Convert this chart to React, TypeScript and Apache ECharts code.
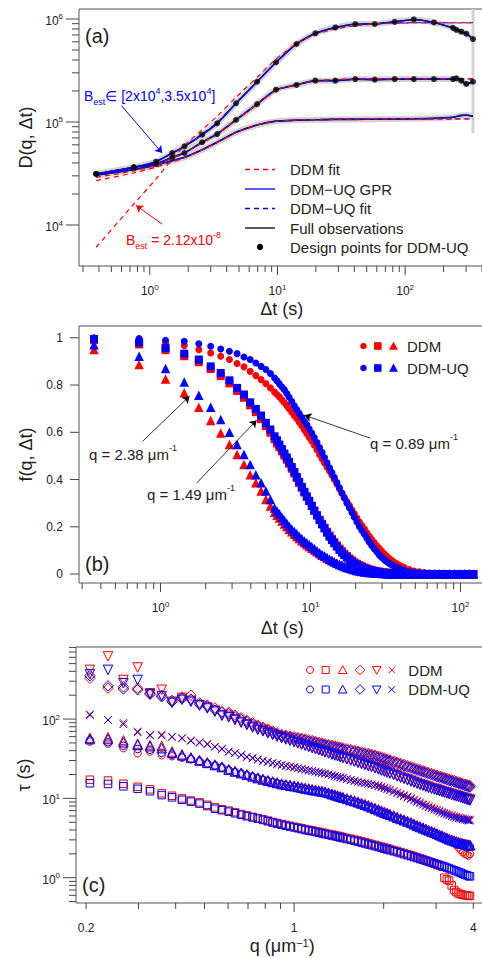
import React, { useEffect, useRef } from "react";
import * as echarts from "echarts";

const FONT = "'Liberation Sans', Arial, Helvetica, sans-serif";
const RED = "#ff0000";
const BLUE = "#0000ff";
const INK = "#222222";

// ---------------- Panel (a): D(q, Δt) ----------------
const tA = [0.38, 0.75, 1.12, 1.5, 1.87, 2.57, 3.37, 4.74, 6.92, 9.75, 14.1, 19.8, 28.4, 40.7, 57.8, 82.8, 117, 168, 237, 252, 275, 301, 340];
const obsTop = [31300, 36300, 41200, 50000, 58000, 75300, 97100, 152000, 246000, 380000, 572000, 726000, 828000, 890000, 894000, 938000, 990000, 925000, 820000, 785000, 753000, 720000, 638000];
const obsMid = [31300, 36300, 39100, 45400, 50000, 63600, 76400, 105000, 149000, 206000, 229000, 252000, 252000, 261000, 258000, 261000, 261000, 261000, 261000, 265000, 252000, 234000, 246000];
const obsBot = [30600, 34500, 38200, 42100, 45400, 53800, 63500, 79400, 93500, 102000, 104000, 105000, 106000, 106000, 106500, 107000, 107500, 108500, 111000, 113000, 116000, 117000, 114000];
const gprTop = [31300, 36300, 41200, 50000, 58000, 75300, 97100, 152000, 246000, 380000, 572000, 726000, 828000, 890000, 894000, 938000, 990000, 925000, 820000, 785000, 753000, 720000, 638000];
const gprMid = [31300, 36300, 39100, 45400, 50000, 63600, 76400, 105000, 149000, 206000, 229000, 252000, 252000, 261000, 258000, 261000, 261000, 261000, 261000, 265000, 252000, 234000, 246000];
const gprBot = [30600, 34500, 38200, 42100, 45400, 53800, 63500, 79400, 93500, 102000, 104000, 105000, 106000, 106000, 106500, 107000, 107500, 108500, 111000, 113000, 115000, 116000, 114000];
const ddmFitTop = [6080, 16000, 28000, 43700, 58900, 84200, 113500, 174000, 272000, 409000, 575000, 710000, 800000, 860000, 895000, 910000, 915000, 915000, 915000, 915000, 915000, 915000, 915000];
const ddmFitMid = [29000, 33500, 38000, 44500, 50000, 63000, 76500, 105000, 149000, 203000, 232000, 250000, 258000, 261000, 262000, 262000, 262000, 262000, 262000, 262000, 262000, 262000, 262000];
const ddmFitBot = [27000, 32000, 36500, 41000, 44800, 53500, 63500, 79000, 93500, 101500, 104500, 106000, 106500, 107000, 107000, 107000, 107000, 107000, 107000, 107000, 107000, 107000, 107000];
const uqFitTop = [31000, 35800, 41500, 49800, 58500, 76500, 99000, 153000, 245000, 378000, 570000, 722000, 822000, 880000, 905000, 915000, 918000, 918000, 918000, 918000, 918000, 918000, 918000];
const uqFitMid = [31000, 35500, 39500, 45000, 50200, 63300, 76500, 105000, 149000, 204000, 231000, 250000, 258000, 261000, 262000, 262000, 262000, 262000, 262000, 262000, 262000, 262000, 262000];
const uqFitBot = [30500, 34300, 38000, 42000, 45300, 53700, 63500, 79200, 93500, 101800, 104300, 105800, 106300, 106800, 107000, 107000, 107000, 107000, 107000, 107000, 107000, 107000, 107000];
const gprEndBand = [[340, 1250000], [340, 78000]];
const arrowBlueA = [[0.6, 144000], [1.25, 50000]];
const arrowRedA = [[1.25, 10200], [0.78, 15500]];

// ---------------- Panel (b): f(q, Δt) ----------------
const tB = [0.36, 0.72, 1.08, 1.44, 1.8, 2.16, 2.52, 2.88, 3.24, 3.6, 3.96, 4.32, 4.68, 5.04, 5.4, 5.76,
  5.98, 6.2, 6.45, 6.7, 6.95, 7.2, 7.5, 7.8, 8.1, 8.4, 8.75, 9.1, 9.45, 9.8, 10.2, 10.6, 11.05, 11.5, 11.95, 12.4, 12.9, 13.4, 13.9, 14.4, 15.0, 15.6, 16.2, 16.8, 17.5, 18.2, 18.9, 19.6, 20.4, 21.2, 22.0, 22.9, 23.8, 24.7, 25.6, 26.6, 27.7, 28.8, 29.9, 31.1, 32.3, 33.5, 34.8, 36.2, 37.6, 39.1, 40.6, 42.2,
  45.6, 49.2, 53.2, 57.4, 62, 67, 72.3, 78, 84.3, 91, 98.3, 106, 115, 122];
const fCircUQ = [1.0, 0.997, 0.99, 0.985, 0.975, 0.964, 0.953, 0.943, 0.933, 0.919, 0.908, 0.893, 0.879, 0.866, 0.849, 0.83,
  0.818, 0.805, 0.792, 0.78, 0.764, 0.748, 0.73, 0.712, 0.696, 0.68, 0.664, 0.648, 0.632, 0.615, 0.597, 0.578, 0.557, 0.535, 0.514, 0.493, 0.471, 0.45, 0.43, 0.41, 0.387, 0.365, 0.343, 0.322, 0.3, 0.28, 0.26, 0.24, 0.22, 0.2, 0.184, 0.168, 0.151, 0.135, 0.121, 0.107, 0.093, 0.08, 0.07, 0.06, 0.052, 0.045, 0.038, 0.032, 0.027, 0.022, 0.018, 0.015,
  0.01, 0.007, 0.005, 0.003, 0.002, 0.001, 0, 0, 0, 0, 0, 0, 0, 0];
const fCircDDM = [0.995, 0.99, 0.978, 0.967, 0.95, 0.936, 0.922, 0.908, 0.891, 0.877, 0.858, 0.84, 0.823, 0.806, 0.788, 0.77,
  0.76, 0.75, 0.738, 0.725, 0.713, 0.7, 0.685, 0.67, 0.657, 0.643, 0.627, 0.61, 0.594, 0.578, 0.562, 0.545, 0.525, 0.505, 0.487, 0.47, 0.452, 0.435, 0.418, 0.4, 0.38, 0.36, 0.342, 0.325, 0.307, 0.29, 0.272, 0.255, 0.237, 0.22, 0.205, 0.19, 0.175, 0.16, 0.146, 0.133, 0.12, 0.108, 0.096, 0.085, 0.075, 0.066, 0.058, 0.05, 0.043, 0.037, 0.032, 0.027,
  0.019, 0.013, 0.009, 0.006, 0.004, 0.003, 0.002, 0.001, 0, 0, 0, 0, 0, 0];
const fSqUQ = [0.995, 0.98, 0.957, 0.933, 0.908, 0.879, 0.851, 0.82, 0.788, 0.76, 0.727, 0.699, 0.671, 0.64, 0.612, 0.583,
  0.566, 0.548, 0.529, 0.51, 0.493, 0.475, 0.453, 0.432, 0.411, 0.39, 0.369, 0.348, 0.329, 0.31, 0.289, 0.268, 0.248, 0.228, 0.21, 0.193, 0.175, 0.158, 0.144, 0.13, 0.116, 0.102, 0.091, 0.08, 0.07, 0.06, 0.052, 0.045, 0.039, 0.033, 0.028, 0.024, 0.02, 0.017, 0.014, 0.012, 0.01, 0.008, 0.006, 0.005, 0.004, 0.003, 0.002, 0.002, 0.001, 0.001, 0, 0,
  0, 0, 0, 0, 0, 0, 0, 0, 0, 0, 0, 0, 0, 0];
const fSqDDM = [0.99, 0.972, 0.948, 0.922, 0.897, 0.868, 0.838, 0.807, 0.775, 0.746, 0.714, 0.685, 0.656, 0.626, 0.598, 0.57,
  0.553, 0.537, 0.519, 0.501, 0.484, 0.467, 0.446, 0.426, 0.406, 0.386, 0.365, 0.345, 0.326, 0.308, 0.288, 0.268, 0.249, 0.23, 0.213, 0.196, 0.179, 0.163, 0.149, 0.135, 0.121, 0.108, 0.097, 0.086, 0.076, 0.066, 0.058, 0.05, 0.044, 0.038, 0.033, 0.028, 0.024, 0.02, 0.017, 0.014, 0.012, 0.01, 0.008, 0.007, 0.006, 0.005, 0.004, 0.003, 0.002, 0.002, 0.001, 0.001,
  0, 0, 0, 0, 0, 0, 0, 0, 0, 0, 0, 0, 0, 0];
const fTriUQ = [0.971, 0.922, 0.87, 0.813, 0.757, 0.706, 0.654, 0.6, 0.548, 0.506, 0.464, 0.42, 0.386, 0.351, 0.316, 0.28,
  0.267, 0.255, 0.241, 0.228, 0.215, 0.203, 0.191, 0.18, 0.17, 0.16, 0.15, 0.14, 0.132, 0.125, 0.116, 0.108, 0.099, 0.09, 0.083, 0.077, 0.07, 0.063, 0.057, 0.052, 0.046, 0.04, 0.036, 0.032, 0.028, 0.024, 0.021, 0.018, 0.015, 0.013, 0.011, 0.009, 0.007, 0.006, 0.005, 0.004, 0.003, 0.003, 0.002, 0.002, 0.001, 0.001, 0, 0, 0, 0, 0, 0,
  0, 0, 0, 0, 0, 0, 0, 0, 0, 0, 0, 0, 0, 0];
const fTriDDM = [0.95, 0.887, 0.826, 0.767, 0.706, 0.65, 0.597, 0.548, 0.506, 0.464, 0.42, 0.386, 0.351, 0.316, 0.288, 0.262,
  0.249, 0.237, 0.224, 0.212, 0.201, 0.19, 0.179, 0.168, 0.159, 0.15, 0.141, 0.132, 0.124, 0.117, 0.109, 0.102, 0.094, 0.087, 0.08, 0.074, 0.068, 0.062, 0.057, 0.052, 0.047, 0.042, 0.038, 0.034, 0.03, 0.027, 0.024, 0.021, 0.018, 0.016, 0.014, 0.012, 0.01, 0.009, 0.007, 0.006, 0.005, 0.004, 0.003, 0.003, 0.002, 0.002, 0.001, 0.001, 0, 0, 0, 0,
  0, 0, 0, 0, 0, 0, 0, 0, 0, 0, 0, 0, 0, 0];
const arrowQ089 = [[25.1, 0.575], [9.12, 0.672]];
const arrowQ238 = [[0.76, 0.562], [1.56, 0.753]];
const arrowQ149 = [[1.74, 0.385], [4.37, 0.651]];

// ---------------- Panel (c): τ vs q ----------------
const qC = [0.206, 0.237, 0.267, 0.298, 0.328, 0.359, 0.389, 0.42, 0.45, 0.481, 0.511, 0.542, 0.572, 0.603, 0.633, 0.664, 0.694, 0.725, 0.755, 0.786, 0.816, 0.847, 0.877, 0.908,
  0.938, 0.969, 1.0, 1.03, 1.06, 1.09, 1.12, 1.15, 1.18, 1.21, 1.24, 1.27, 1.305, 1.34, 1.37, 1.4, 1.43, 1.46, 1.505, 1.55, 1.595, 1.64, 1.685, 1.73, 1.775, 1.82, 1.87, 1.92, 1.965, 2.01, 2.055, 2.1, 2.16, 2.22, 2.28, 2.34, 2.405, 2.47, 2.53, 2.59, 2.65, 2.71, 2.77, 2.83, 2.895, 2.96, 3.02, 3.08, 3.14, 3.2, 3.26, 3.32, 3.385, 3.45, 3.51, 3.57, 3.63, 3.69, 3.75, 3.81, 3.855, 3.9];
const tauSqUQ = [15.5, 15.2, 14.2, 13.2, 12.3, 11.0, 10.3, 9.6, 9.1, 8.6, 8.0, 7.4, 7.1, 6.8, 6.5, 6.2, 5.95, 5.75, 5.55, 5.35, 5.15, 4.95, 4.8, 4.65,
  4.52, 4.4, 4.3, 4.2, 4.1, 4.0, 3.92, 3.85, 3.77, 3.7, 3.62, 3.55, 3.47, 3.4, 3.34, 3.28, 3.21, 3.15, 3.07, 3.0, 2.92, 2.85, 2.77, 2.7, 2.63, 2.57, 2.5, 2.44, 2.38, 2.32, 2.27, 2.22, 2.16, 2.1, 2.04, 1.98, 1.92, 1.87, 1.82, 1.77, 1.72, 1.68, 1.64, 1.6, 1.56, 1.52, 1.48, 1.45, 1.41, 1.38, 1.34, 1.31, 1.27, 1.24, 1.21, 1.18, 1.15, 1.12, 1.09, 1.07, 1.05, 1.04];
const tauSqDDM = [17.2, 16.8, 15.3, 14.0, 13.0, 11.6, 10.8, 10.0, 9.4, 8.9, 8.3, 7.7, 7.3, 7.0, 6.7, 6.35, 6.1, 5.85, 5.65, 5.45, 5.25, 5.05, 4.9, 4.75,
  4.62, 4.5, 4.4, 4.3, 4.2, 4.1, 4.02, 3.95, 3.87, 3.8, 3.72, 3.65, 3.57, 3.5, 3.44, 3.38, 3.31, 3.25, 3.17, 3.1, 3.02, 2.95, 2.87, 2.8, 2.73, 2.66, 2.59, 2.52, 2.46, 2.4, 2.35, 2.3, 2.23, 2.17, 2.1, 2.04, 1.98, 1.92, 1.86, 1.8, 1.75, 1.7, 1.65, 1.6, 1.55, 1.5, 1.46, 1.42, 1.38, 1.0, 0.95, 0.92, 0.8, 0.7, 0.66, 0.63, 0.62, 0.61, 0.6, 0.6, 0.59, 0.59];
const tauTriUQ = [56, 56, 51, 47.5, 45.5, 43, 37.5, 35, 32.5, 30, 28, 26.3, 24.8, 23, 21.8, 20.8, 19.8, 18.9, 18, 17.3, 16.7, 16.1, 15.6, 15.1,
  14.8, 14.5, 14.2, 13.9, 13.6, 13.3, 13.05, 12.8, 12.6, 12.4, 12.2, 12.0, 11.65, 11.3, 11.0, 10.7, 10.45, 10.2, 9.85, 9.5, 9.2, 8.9, 8.6, 8.3, 8.0, 7.7, 7.4, 7.1, 6.85, 6.6, 6.4, 6.2, 5.95, 5.7, 5.5, 5.3, 5.1, 4.9, 4.7, 4.5, 4.35, 4.2, 4.07, 3.95, 3.82, 3.7, 3.57, 3.45, 3.35, 3.25, 3.15, 3.05, 2.97, 2.9, 2.84, 2.78, 2.73, 2.68, 2.64, 2.6, 2.57, 2.55];
const tauTriDDM = [58, 59, 54, 49, 47, 46, 39, 36, 33, 30.5, 28.5, 26.8, 25.2, 23.4, 22.2, 21.1, 20.1, 19.2, 18.3, 17.6, 17, 16.4, 15.9, 15.4,
  15.1, 14.8, 14.5, 14.2, 13.9, 13.6, 13.35, 13.1, 12.85, 12.6, 12.4, 12.2, 11.85, 11.5, 11.2, 10.9, 10.65, 10.4, 10.05, 9.7, 9.4, 9.1, 8.8, 8.5, 8.2, 7.9, 7.6, 7.3, 7.05, 6.8, 6.6, 6.35, 6.1, 5.85, 5.6, 5.4, 5.2, 5.0, 4.8, 4.6, 4.45, 4.3, 4.15, 4.0, 3.87, 3.75, 3.62, 3.5, 3.4, 3.3, 3.2, 3.1, 3.02, 2.95, 2.88, 2.82, 2.77, 2.72, 2.68, 2.64, 2.62, 2.6];
const tauCircUQ = [54, 51, 46, 42, 41, 37.5, 35.5, 33.5, 31.5, 29.5, 27.6, 26, 24.5, 22.8, 21.6, 20.6, 19.6, 18.7, 17.9, 17.2, 16.6, 16, 15.5, 15,
  14.65, 14.3, 14.0, 13.7, 13.4, 13.1, 12.85, 12.6, 12.4, 12.2, 12.0, 11.8, 11.45, 11.1, 10.8, 10.5, 10.25, 10.0, 9.65, 9.3, 9.0, 8.7, 8.4, 8.1, 7.8, 7.5, 7.22, 6.95, 6.7, 6.45, 6.25, 6.05, 5.82, 5.6, 5.4, 5.2, 5.0, 4.8, 4.6, 4.4, 4.25, 4.1, 3.97, 3.85, 3.72, 3.6, 3.47, 3.35, 3.25, 3.15, 3.05, 2.95, 2.87, 2.8, 2.74, 2.68, 2.63, 2.58, 2.54, 2.5, 2.48, 2.46];
const tauCircDDM = [52, 49, 43, 37, 39, 35, 34, 32.5, 31, 29, 27.3, 25.8, 24.3, 22.6, 21.4, 20.4, 19.5, 18.6, 17.8, 17.1, 16.5, 15.9, 15.4, 14.9,
  14.55, 14.2, 13.9, 13.6, 13.3, 13.0, 12.75, 12.5, 12.3, 12.1, 11.9, 11.7, 11.35, 11.0, 10.7, 10.4, 10.15, 9.9, 9.55, 9.2, 8.9, 8.6, 8.3, 8.0, 7.72, 7.45, 7.17, 6.9, 6.65, 6.4, 6.2, 6.0, 5.77, 5.55, 5.35, 5.15, 4.95, 4.75, 4.55, 4.35, 4.2, 4.05, 3.92, 3.8, 3.67, 3.55, 3.42, 3.3, 3.2, 3.1, 3.0, 2.9, 2.82, 2.75, 2.6, 2.4, 2.25, 2.1, 2.0, 1.95, 1.9, 2.0];
const tauCrossUQ = [112, 97, 86, 68, 63, 62, 60, 57, 53, 51, 48, 44.6, 41.7, 39, 37, 35, 33.5, 32, 30.8, 29.7, 28.7, 27.8, 27, 26.2,
  25.6, 25, 24.4, 23.9, 23.4, 22.9, 22.45, 22, 21.6, 21.2, 20.85, 20.5, 20.0, 19.5, 19.1, 18.7, 18.3, 17.9, 17.4, 16.9, 16.5, 16.1, 15.75, 15.4, 15.15, 14.9, 14.55, 14.2, 13.8, 13.4, 13.0, 12.6, 12.1, 11.6, 11.15, 10.7, 10.25, 9.8, 9.4, 9.0, 8.65, 8.3, 8.0, 7.7, 7.45, 7.2, 7.0, 6.8, 6.6, 6.4, 6.25, 6.1, 5.95, 5.8, 5.7, 5.6, 5.52, 5.45, 5.37, 5.3, 5.27, 5.25];
const tauCrossDDM = [115, 98, 90, 70, 62, 64, 59, 58, 54, 50, 49, 45, 42.5, 38.5, 37.5, 35.5, 33, 32.5, 31, 30, 29, 28, 27.3, 26.5,
  25.9, 25.3, 24.8, 24.2, 23.6, 23.1, 22.7, 22.3, 21.8, 21.4, 21.1, 20.7, 20.3, 19.8, 19.3, 18.9, 18.6, 18.2, 17.7, 17.2, 16.8, 16.3, 16.0, 15.7, 15.4, 15.1, 14.8, 14.5, 14.1, 13.7, 13.3, 12.9, 12.4, 11.9, 11.45, 11.0, 10.55, 10.1, 9.7, 9.3, 8.95, 8.6, 8.3, 8.0, 7.75, 7.5, 7.25, 7.0, 6.8, 6.6, 6.45, 6.3, 6.15, 6.0, 5.9, 5.8, 5.7, 5.6, 5.52, 5.45, 5.42, 5.4];
const tauDiaUQ = [352, 262, 240, 234, 211, 191, 165, 181, 178, 153, 145, 130, 121, 117, 107, 99, 93, 86, 81, 76, 72, 68, 64.5, 61.5,
  60.5, 59, 57.5, 56.5, 55.5, 54, 52.5, 51.5, 50.5, 49.2, 48, 47, 46, 44.9, 44.2, 43.3, 42.5, 41.8, 40.8, 39.8, 38.8, 37.9, 37, 36.2, 35.4, 34.7, 33.8, 32.9, 32, 31.1, 30.2, 29.4, 28.4, 27.5, 26.6, 25.8, 24.9, 24.1, 23.4, 22.7, 22.1, 21.5, 20.9, 20.4, 19.8, 19.3, 18.8, 18.4, 18, 17.6, 17.2, 16.8, 16.4, 16.1, 15.7, 15.4, 15.1, 14.8, 14.5, 14.3, 14.1, 13.9];
const tauDiaDDM = [327, 245, 255, 245, 205, 200, 172, 190, 200, 160, 150, 138, 124, 122, 112, 104, 96, 90, 84, 79, 75, 71, 67, 64,
  62.5, 61, 59.8, 58.5, 57.2, 56, 54.8, 53.5, 52.2, 51, 49.9, 48.8, 47.7, 46.6, 45.8, 45, 44.2, 43.4, 42.3, 41.3, 40.3, 39.3, 38.4, 37.6, 36.8, 36, 35.1, 34.2, 33.2, 32.3, 31.4, 30.5, 29.5, 28.6, 27.7, 26.8, 25.9, 25.1, 24.3, 23.6, 23, 22.4, 21.8, 21.2, 20.6, 20.1, 19.6, 19.2, 18.7, 18.3, 17.9, 17.5, 17.1, 16.8, 16.4, 16.1, 15.7, 15.4, 15.1, 14.9, 14.7, 14.5];
const tauDownUQ = [368, 417, 283, 311, 205, 195, 160, 175, 165, 148, 136, 124, 110, 105, 97, 90, 84, 78, 73, 70, 66, 63, 60, 57.5,
  55.2, 53.1, 51.1, 49.3, 47.6, 46, 44.5, 43, 41.7, 40.4, 39.2, 38, 36.8, 35.6, 34.7, 33.9, 33, 32.2, 31.1, 30, 29, 28, 27.1, 26.3, 25.5, 24.8, 23.9, 23.1, 22.4, 21.7, 21.1, 20.5, 19.7, 18.9, 18.2, 17.6, 16.9, 16.3, 15.8, 15.3, 14.8, 14.4, 14, 13.6, 13.2, 12.9, 12.6, 12.3, 12.05, 11.8, 11.55, 11.3, 11.05, 10.8, 10.6, 10.4, 10.2, 10.0, 9.8, 9.6, 9.5, 9.4];
const tauDownDDM = [417, 616, 311, 447, 211, 234, 165, 185, 170, 150, 140, 128, 112, 110, 100, 92, 86, 80, 76, 72, 68, 65, 62, 59,
  57, 55, 53, 51, 49.2, 47.5, 46, 44.5, 43.1, 41.8, 40.5, 39.3, 38, 36.8, 35.9, 35, 34.1, 33.2, 32.1, 31, 30, 29, 28.1, 27.2, 26.4, 25.6, 24.7, 23.9, 23.1, 22.4, 21.7, 21.1, 20.3, 19.5, 18.8, 18.1, 17.4, 16.8, 16.2, 15.7, 15.2, 14.8, 14.4, 14, 13.6, 13.3, 13, 12.7, 12.4, 12.1, 11.85, 11.6, 11.35, 11.1, 10.9, 10.7, 10.5, 10.3, 10.1, 9.9, 9.8, 9.7];

// ---------------- Axes: ticks and tick labels ----------------
const aXMajor = [1, 10, 100];
const aXMinor = [0.3, 0.4, 0.5, 0.6, 0.7, 0.8, 0.9, 2, 3, 4, 5, 6, 7, 8, 9, 20, 30, 40, 50, 60, 70, 80, 90, 200, 300, 400];
const aXLabels = ["10^0", "10^1", "10^2"];
const aYMajor = [1e4, 1e5, 1e6];
const aYMinor = [2e4, 3e4, 4e4, 5e4, 6e4, 7e4, 8e4, 9e4, 2e5, 3e5, 4e5, 5e5, 6e5, 7e5, 8e5, 9e5];
const aYLabels = ["10^4", "10^5", "10^6"];

const bXMajor = [1, 10, 100];
const bXMinor = [0.3, 0.4, 0.5, 0.6, 0.7, 0.8, 0.9, 2, 3, 4, 5, 6, 7, 8, 9, 20, 30, 40, 50, 60, 70, 80, 90, 200];
const bXLabels = ["10^0", "10^1", "10^2"];
const bYMajor = [0, 0.2, 0.4, 0.6, 0.8, 1];
const bYLabels = ["0", "0.2", "0.4", "0.6", "0.8", "1"];

const cXMajor = [1];
const cXMinor = [0.2, 0.3, 0.4, 0.5, 0.6, 0.7, 0.8, 0.9, 2, 3, 4];
const cXLabelVals = [0.2, 1, 4];
const cXLabels = ["0.2", "1", "4"];
const cYMajor = [1, 10, 100];
const cYMinor = [0.5, 0.6, 0.7, 0.8, 0.9, 2, 3, 4, 5, 6, 7, 8, 9, 20, 30, 40, 50, 60, 70, 80, 90, 200, 300, 400, 500, 600, 700, 800];
const cYLabels = ["10^0", "10^1", "10^2"];

// axis ranges
const A_X = [0.279, 500];
const A_Y = [4000, 1.25e6];
const B_X = [0.286, 200];
const B_Y = [-0.038, 1.05];
const C_X = [0.185, 4.5];
const C_Y = [0.48, 810];

const zip = (xs: number[], ys: number[]) => xs.map((x, i) => [x, ys[i]]);

function toRich(s: string) {
  const m = s.match(/^(.*)\^(.*)$/);
  return m ? `{b|${m[1]}}{e|${m[2]}}` : `{b|${s}}`;
}

const TICK_RICH = {
  b: { fontSize: 12, fontFamily: FONT, fill: INK, lineHeight: 16 },
  e: { fontSize: 8, fontFamily: FONT, fill: INK, lineHeight: 8, verticalAlign: "top" },
};

function decor(idx: number, xRef: number, yRef: number, xMaj: number[], xMin: number[], yMaj: number[], yMin: number[],
  xLabVals: number[], xLabs: string[], yLabVals: number[], yLabs: string[], yMajLen: number, yMinLen: number) {
  const tickData: number[][] = [];
  xMaj.forEach((v) => tickData.push([v, yRef, 0, 1]));
  xMin.forEach((v) => tickData.push([v, yRef, 0, 0]));
  yMaj.forEach((v) => tickData.push([xRef, v, 1, 1]));
  yMin.forEach((v) => tickData.push([xRef, v, 1, 0]));
  const labData: number[][] = [];
  xLabVals.forEach((v, i) => labData.push([v, yRef, 0, i]));
  yLabVals.forEach((v, i) => labData.push([xRef, v, 1, i]));
  return [
    {
      type: "custom", xAxisIndex: idx, yAxisIndex: idx, silent: true, z: 20, clip: false,
      data: tickData,
      renderItem: (params: any, api: any) => {
        const cs = params.coordSys;
        const p = api.coord([api.value(0), api.value(1)]);
        const major = api.value(3) === 1;
        if (api.value(2) === 0) {
          const y0 = cs.y + cs.height;
          return { type: "line", shape: { x1: p[0], y1: y0, x2: p[0], y2: y0 + (major ? 9 : 6) }, style: { stroke: "#444", lineWidth: 1 } };
        }
        return { type: "line", shape: { x1: cs.x, y1: p[1], x2: cs.x - (major ? yMajLen : yMinLen), y2: p[1] }, style: { stroke: "#444", lineWidth: 1 } };
      },
    },
    {
      type: "custom", xAxisIndex: idx, yAxisIndex: idx, silent: true, z: 20, clip: false,
      data: labData,
      renderItem: (params: any, api: any) => {
        const cs = params.coordSys;
        const p = api.coord([api.value(0), api.value(1)]);
        const i = api.value(3);
        if (api.value(2) === 0) {
          return {
            type: "text", x: p[0], y: cs.y + cs.height + 25,
            style: { text: toRich(xLabs[i]), rich: TICK_RICH, fill: INK, font: `12px ${FONT}`, align: "center", verticalAlign: "middle", textAlign: "center", textVerticalAlign: "middle" },
          };
        }
        return {
          type: "text", x: cs.x - 16, y: p[1] + (yLabs[i].indexOf("^") >= 0 ? 2 : 0),
          style: { text: toRich(yLabs[i]), rich: TICK_RICH, fill: INK, font: `12px ${FONT}`, align: "right", verticalAlign: "middle", textAlign: "right", textVerticalAlign: "middle" },
        };
      },
    },
  ];
}

function lineA(name: string, ys: number[], color: string, width: number, dash?: number[], z = 2, extra: any = {}) {
  return {
    type: "line", name, xAxisIndex: 0, yAxisIndex: 0, data: zip(tA, ys), showSymbol: false, symbol: "none",
    smooth: 0.2, silent: true, z, lineStyle: { color, width, type: dash || "solid" }, ...extra,
  };
}

function arrowMark(pts: number[][], color: string, width = 1) {
  return {
    silent: true, symbol: ["none", "arrow"], symbolSize: 7, label: { show: false },
    lineStyle: { color, width, type: "solid" }, emphasis: { disabled: true },
    data: [[{ coord: pts[0] }, { coord: pts[1] }]],
  };
}

function filledB(name: string, ys: number[], symbol: string, size: number, color: string) {
  return {
    type: "scatter", name, xAxisIndex: 1, yAxisIndex: 1, data: zip(tB, ys), symbol, symbolSize: size,
    itemStyle: { color, opacity: 1 }, silent: true, z: color === BLUE ? 4 : 3,
  };
}

const CROSS = "path://M0 0L10 10M10 0L0 10";
function hollowC(name: string, ys: number[], symbol: string, size: number, color: string, rotate = 0) {
  return {
    type: "scatter", name, xAxisIndex: 2, yAxisIndex: 2, data: zip(qC, ys), symbol, symbolSize: size, symbolRotate: rotate,
    itemStyle: { color: "rgba(140,140,140,0.06)", borderColor: color, borderWidth: 1, opacity: 1 },
    silent: true, z: color === BLUE ? 4 : 3,
  };
}

const nameStyle = (extra: any = {}) => ({
  fontSize: 18, fontFamily: FONT, color: INK,
  rich: { sup: { fontSize: 11, fontFamily: FONT, color: INK, lineHeight: 11, verticalAlign: "top" } },
  ...extra,
});

const hiddenAxisParts = {
  axisLine: { show: false }, axisTick: { show: false }, axisLabel: { show: false }, splitLine: { show: false }, minorTick: { show: false },
};

function txt(x: number, y: number, text: string, size: number, color: string, align = "left", rich?: any) {
  return {
    type: "text", x, y, silent: true, z: 50,
    style: { text, fill: color, font: `${size}px ${FONT}`, fontSize: size, fontFamily: FONT, align, verticalAlign: "middle", textAlign: align, textVerticalAlign: "middle", rich },
  };
}

function annRich(size: number, color: string) {
  return {
    n: { fontSize: size, fontFamily: FONT, fill: color, lineHeight: size + 6 },
    s: { fontSize: 9, fontFamily: FONT, fill: color, lineHeight: 9, verticalAlign: "bottom" },
    p: { fontSize: 9, fontFamily: FONT, fill: color, lineHeight: 9, verticalAlign: "top" },
  };
}

function buildOption() {
  const series: any[] = [
    // ---- (a)
    lineA("band", obsTop, "#d2d2d2", 6, undefined, 1),
    lineA("band", obsMid, "#d2d2d2", 6, undefined, 1),
    lineA("band", obsBot, "#d2d2d2", 6, undefined, 1),
    { type: "line", name: "band", xAxisIndex: 0, yAxisIndex: 0, data: gprEndBand, showSymbol: false, symbol: "none", silent: true, z: 1, lineStyle: { color: "#d2d2d2", width: 3 } },
    lineA("Full observations", obsTop, "#000000", 1.6),
    lineA("Full observations", obsMid, "#000000", 1.6),
    lineA("Full observations", obsBot, "#000000", 1.6),
    lineA("DDM−UQ GPR", gprTop, BLUE, 1.1, undefined, 3, { markLine: arrowMark(arrowBlueA, BLUE) }),
    lineA("DDM−UQ GPR", gprMid, BLUE, 1.1, undefined, 3),
    lineA("DDM−UQ GPR", gprBot, BLUE, 1.1, undefined, 3),
    lineA("DDM−UQ fit", uqFitTop, BLUE, 1.1, [5, 4], 4),
    lineA("DDM−UQ fit", uqFitMid, BLUE, 1.1, [5, 4], 4),
    lineA("DDM−UQ fit", uqFitBot, BLUE, 1.1, [5, 4], 4),
    lineA("DDM fit", ddmFitTop, RED, 1.2, [5, 4], 5, { markLine: arrowMark(arrowRedA, RED) }),
    lineA("DDM fit", ddmFitMid, RED, 1.2, [5, 4], 5),
    lineA("DDM fit", ddmFitBot, RED, 1.2, [5, 4], 5),
    { type: "scatter", name: "Design points for DDM-UQ", xAxisIndex: 0, yAxisIndex: 0, data: zip(tA, obsTop), symbol: "circle", symbolSize: 6, itemStyle: { color: "#000" }, silent: true, z: 6 },
    { type: "scatter", name: "Design points for DDM-UQ", xAxisIndex: 0, yAxisIndex: 0, data: zip(tA, obsMid), symbol: "circle", symbolSize: 6, itemStyle: { color: "#000" }, silent: true, z: 6 },
    // ---- (b)
    filledB("DDM q=0.89", fCircDDM, "circle", 7, RED),
    filledB("DDM q=1.49", fSqDDM, "rect", 8, RED),
    filledB("DDM q=2.38", fTriDDM, "triangle", 9.5, RED),
    { ...filledB("DDM-UQ q=0.89", fCircUQ, "circle", 7, BLUE), markLine: arrowMark(arrowQ089, "#000", 0.8) },
    { ...filledB("DDM-UQ q=1.49", fSqUQ, "rect", 8, BLUE), markLine: arrowMark(arrowQ149, "#000", 0.8) },
    { ...filledB("DDM-UQ q=2.38", fTriUQ, "triangle", 9.5, BLUE), markLine: arrowMark(arrowQ238, "#000", 0.8) },
    // ---- (c)
    hollowC("DDM circle", tauCircDDM, "circle", 7.5, RED),
    hollowC("DDM square", tauSqDDM, "rect", 7.5, RED),
    hollowC("DDM triangle", tauTriDDM, "triangle", 9.5, RED),
    hollowC("DDM diamond", tauDiaDDM, "diamond", 10.5, RED),
    hollowC("DDM down-triangle", tauDownDDM, "triangle", 9.5, RED, 180),
    hollowC("DDM cross", tauCrossDDM, CROSS, 7.5, RED),
    hollowC("DDM-UQ circle", tauCircUQ, "circle", 7.5, BLUE),
    hollowC("DDM-UQ square", tauSqUQ, "rect", 7.5, BLUE),
    hollowC("DDM-UQ triangle", tauTriUQ, "triangle", 9.5, BLUE),
    hollowC("DDM-UQ diamond", tauDiaUQ, "diamond", 10.5, BLUE),
    hollowC("DDM-UQ down-triangle", tauDownUQ, "triangle", 9.5, BLUE, 180),
    hollowC("DDM-UQ cross", tauCrossUQ, CROSS, 7.5, BLUE),
    // ---- ticks & labels
    ...decor(0, A_X[0], A_Y[0], aXMajor, aXMinor, aYMajor, aYMinor, aXMajor, aXLabels, aYMajor, aYLabels, 13, 7),
    ...decor(1, B_X[0], B_Y[0], bXMajor, bXMinor, bYMajor, [], bXMajor, bXLabels, bYMajor, bYLabels, 9, 5),
    ...decor(2, C_X[0], C_Y[0], cXMajor, cXMinor, cYMajor, cYMinor, cXLabelVals, cXLabels, cYMajor, cYLabels, 13, 7),
  ];

  const graphic: any[] = [];
  // panel letters
  graphic.push(txt(85, 36, "(a)", 20, INK));
  graphic.push(txt(85, 564, "(b)", 20, INK));
  graphic.push(txt(82, 885, "(c)", 20, INK));
  // legend (a)
  const legA = [
    { y: 169.5, label: "DDM fit", stroke: RED, dash: [5, 4] },
    { y: 189, label: "DDM−UQ GPR", stroke: BLUE, dash: null },
    { y: 208.5, label: "DDM−UQ fit", stroke: BLUE, dash: [5, 4] },
    { y: 228, label: "Full observations", stroke: "#000", dash: null },
  ];
  legA.forEach((l) => {
    graphic.push({ type: "line", silent: true, z: 50, shape: { x1: 245, y1: l.y, x2: 275, y2: l.y }, style: { stroke: l.stroke, lineWidth: 1.3, lineDash: l.dash || undefined } });
    graphic.push(txt(290, l.y, l.label, 15, INK));
  });
  graphic.push({ type: "circle", silent: true, z: 50, shape: { cx: 260, cy: 247, r: 3.2 }, style: { fill: "#000" } });
  graphic.push(txt(290, 247, "Design points for DDM-UQ", 15, INK));
  // annotations (a)
  graphic.push(txt(84, 96, "{n|B}{s|est}{n|∈ [2x10}{p|4}{n|,3.5x10}{p|4}{n|]}", 14, BLUE, "left", annRich(14, BLUE)));
  graphic.push(txt(126, 240, "{n|B}{s|est}{n| = 2.12x10}{p|-8}", 14, RED, "left", annRich(14, RED)));
  // legend (b)
  [{ y: 346, c: RED, t: "DDM" }, { y: 368, c: BLUE, t: "DDM-UQ" }].forEach((r) => {
    graphic.push({ type: "circle", silent: true, z: 50, shape: { cx: 363.5, cy: r.y, r: 3.3 }, style: { fill: r.c } });
    graphic.push({ type: "rect", silent: true, z: 50, shape: { x: 374, y: r.y - 3.8, width: 7.6, height: 7.6 }, style: { fill: r.c } });
    graphic.push({ type: "polygon", silent: true, z: 50, shape: { points: [[393.5, r.y - 4.5], [398, r.y + 3.8], [389, r.y + 3.8]] }, style: { fill: r.c } });
    graphic.push(txt(407, r.y, r.t, 15, INK));
  });
  // annotations (b)
  graphic.push(txt(370, 443, "{n|q = 0.89 μm}{p|-1}", 15, INK, "left", annRich(15, INK)));
  graphic.push(txt(89, 454, "{n|q = 2.38 μm}{p|-1}", 15, INK, "left", annRich(15, INK)));
  graphic.push(txt(147, 494, "{n|q = 1.49 μm}{p|-1}", 15, INK, "left", annRich(15, INK)));
  // legend (c)
  [{ y: 670, c: RED, t: "DDM" }, { y: 689.5, c: BLUE, t: "DDM-UQ" }].forEach((r) => {
    const st = { fill: "none", stroke: r.c, lineWidth: 1 };
    graphic.push({ type: "circle", silent: true, z: 50, shape: { cx: 310, cy: r.y, r: 3.5 }, style: st });
    graphic.push({ type: "rect", silent: true, z: 50, shape: { x: 322.2, y: r.y - 3.5, width: 7, height: 7 }, style: st });
    graphic.push({ type: "polygon", silent: true, z: 50, shape: { points: [[342.7, r.y - 4.3], [347, r.y + 3.5], [338.4, r.y + 3.5]] }, style: st });
    graphic.push({ type: "polygon", silent: true, z: 50, shape: { points: [[360, r.y - 4.8], [364.8, r.y], [360, r.y + 4.8], [355.2, r.y]] }, style: st });
    graphic.push({ type: "polygon", silent: true, z: 50, shape: { points: [[376.7, r.y + 4.3], [381, r.y - 3.5], [372.4, r.y - 3.5]] }, style: st });
    graphic.push({ type: "line", silent: true, z: 50, shape: { x1: 388.5, y1: r.y - 3.3, x2: 395, y2: r.y + 3.3 }, style: { stroke: r.c, lineWidth: 1 } });
    graphic.push({ type: "line", silent: true, z: 50, shape: { x1: 395, y1: r.y - 3.3, x2: 388.5, y2: r.y + 3.3 }, style: { stroke: r.c, lineWidth: 1 } });
    graphic.push(txt(408.3, r.y, r.t, 15, INK));
  });

  const gridStyle = { show: true, borderColor: "#555", borderWidth: 1, backgroundColor: "transparent", containLabel: false, outerBoundsMode: "none" };
  return {
    animation: false,
    backgroundColor: "#ffffff",
    textStyle: { fontFamily: FONT },
    grid: [
      { ...gridStyle, left: 79, top: 9, width: 415.4, height: 257 },
      { ...gridStyle, left: 79, top: 326, width: 426.6, height: 257 },
      { ...gridStyle, left: 76, top: 647, width: 412.5, height: 256 },
    ],
    xAxis: [
      { type: "log", logBase: 10, gridIndex: 0, min: A_X[0], max: A_X[1], ...hiddenAxisParts, name: "Δt (s)", nameLocation: "middle", nameGap: 34, nameTextStyle: nameStyle({ padding: [0, 10, 0, 0] }) },
      { type: "log", logBase: 10, gridIndex: 1, min: B_X[0], max: B_X[1], ...hiddenAxisParts, name: "Δt (s)", nameLocation: "middle", nameGap: 36, nameTextStyle: nameStyle({ padding: [0, 20, 0, 0] }) },
      { type: "log", logBase: 10, gridIndex: 2, min: C_X[0], max: C_X[1], ...hiddenAxisParts, name: "q (μm{sup|−1})", nameLocation: "middle", nameGap: 34, nameTextStyle: nameStyle() },
    ],
    yAxis: [
      { type: "log", logBase: 10, gridIndex: 0, min: A_Y[0], max: A_Y[1], ...hiddenAxisParts, name: "D(q, Δt)", nameLocation: "middle", nameGap: 44, nameTextStyle: nameStyle() },
      { type: "value", gridIndex: 1, min: B_Y[0], max: B_Y[1], ...hiddenAxisParts, name: "f(q, Δt)", nameLocation: "middle", nameGap: 44, nameTextStyle: nameStyle() },
      { type: "log", logBase: 10, gridIndex: 2, min: C_Y[0], max: C_Y[1], ...hiddenAxisParts, name: "τ (s)", nameLocation: "middle", nameGap: 43, nameTextStyle: nameStyle() },
    ],
    series,
    graphic: { elements: graphic },
  };
}

export default function App() {
  const ref = useRef<HTMLDivElement>(null);
  useEffect(() => {
    if (!ref.current) return;
    const chart = echarts.init(ref.current, null, { renderer: "svg" });
    chart.setOption(buildOption() as any);
    return () => chart.dispose();
  }, []);
  return <div ref={ref} style={{ position: "fixed", left: 0, top: 0, width: 482, height: 958, background: "#fff" }} />;
}
